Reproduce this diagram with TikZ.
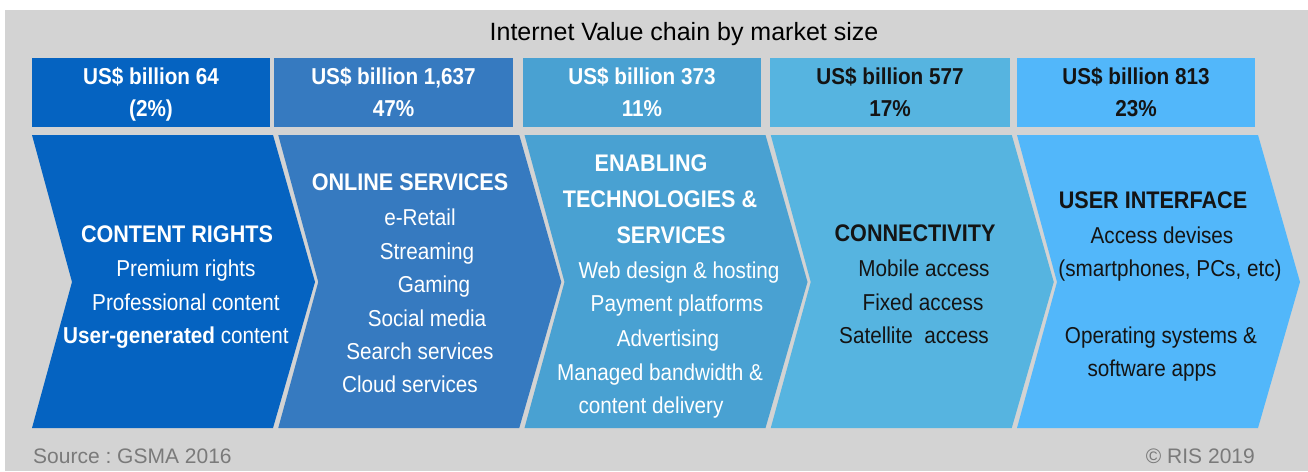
\documentclass[tikz,border=0pt]{standalone}
\usepackage{fontspec}
\setmainfont{Liberation Sans}
\newfontfamily\narrowfont{Liberation Sans}[FakeStretch=0.9]
\frenchspacing

\definecolor{panelgray}{HTML}{D3D3D3}
\definecolor{stepA}{HTML}{0563C1}
\definecolor{stepB}{HTML}{367AC0}
\definecolor{stepC}{HTML}{49A1D2}
\definecolor{stepD}{HTML}{56B4E0}
\definecolor{stepE}{HTML}{52B7FA}
\definecolor{darktext}{HTML}{141414}
\definecolor{notegray}{HTML}{7A7A7A}

\begin{document}
\begin{tikzpicture}[x=1pt,y=-1pt,
  lbl/.style={inner sep=0pt, text height=16.5pt, text depth=0pt, anchor=center},
  price/.style={lbl, font=\narrowfont\bfseries\fontsize{23}{28}\selectfont},
  heading/.style={lbl, font=\narrowfont\bfseries\fontsize{24}{28}\selectfont},
  item/.style={lbl, font=\narrowfont\fontsize{23}{28}\selectfont},
  note/.style={inner sep=0pt, text height=15pt, text depth=0pt, font=\fontsize{21}{25}\selectfont, text=notegray},
  onlight/.style={text=white},
  ondark/.style={text=darktext}]

% canvas
\useasboundingbox (0,0) rectangle (1308,471);
\fill[white] (0,0) rectangle (1308,471);
\fill[panelgray] (5,10) rectangle (1308,471);

% title
\node[lbl, font=\fontsize{25}{30}\selectfont, text=black] (title) at (684,32.5) {Internet Value chain by market size};

% market size boxes
\fill[stepA] (32,58) rectangle (270,127);
\fill[stepB] (274,58) rectangle (513,127);
\fill[stepC] (523,58) rectangle (761,127);
\fill[stepD] (770,58) rectangle (1010,127);
\fill[stepE] (1017,58) rectangle (1255,127);

\node[price, onlight] (sizeA1) at (151,76) {US\$ billion 64};
\node[price, onlight] (sizeA2) at (151,108) {(2\%)};
\node[price, onlight] (sizeB1) at (393.5,76) {US\$ billion 1,637};
\node[price, onlight] (sizeB2) at (393.5,108) {47\%};
\node[price, onlight] (sizeC1) at (642,76) {US\$ billion 373};
\node[price, onlight] (sizeC2) at (642,108) {11\%};
\node[price, ondark] (sizeD1) at (890,76) {US\$ billion 577};
\node[price, ondark] (sizeD2) at (890,108) {17\%};
\node[price, ondark] (sizeE1) at (1136,76) {US\$ billion 813};
\node[price, ondark] (sizeE2) at (1136,108) {23\%};

% chevrons of the value chain
\foreach \xl/\col in {32/stepA, 278.25/stepB, 524.5/stepC, 770.75/stepD, 1017/stepE}{
  \fill[\col] (\xl,135) -- ++(241,0) -- ++(42,147) -- ++(-42,146) -- ++(-241,0) -- ++(40,-146) -- cycle;
}

% content rights
\node[heading, onlight] (rightsT) at (177,234) {CONTENT RIGHTS};
\node[item, onlight] (rights1) at (186,268) {Premium rights};
\node[item, onlight] (rights2) at (186,302) {Professional content};
\node[item, onlight] (rights3) at (176,335) {\textbf{User-generated} content};

% online services
\node[heading, onlight] (onlineT) at (410,182) {ONLINE SERVICES};
\node[item, onlight] (online1) at (420,217) {e-Retail};
\node[item, onlight] (online2) at (427,251) {Streaming};
\node[item, onlight] (online3) at (434,284) {Gaming};
\node[item, onlight] (online4) at (427,318) {Social media};
\node[item, onlight] (online5) at (420,351) {Search services};
\node[item, onlight] (online6) at (410,384) {Cloud services};

% enabling technologies
\node[heading, onlight] (enableT1) at (651,163) {ENABLING};
\node[heading, onlight] (enableT2) at (660,199) {TECHNOLOGIES \&};
\node[heading, onlight] (enableT3) at (671,235) {SERVICES};
\node[item, onlight] (enable1) at (679,270) {Web design \& hosting};
\node[item, onlight] (enable2) at (677,303) {Payment platforms};
\node[item, onlight] (enable3) at (668,338) {Advertising};
\node[item, onlight] (enable4) at (660,372) {Managed bandwidth \&};
\node[item, onlight] (enable5) at (651,405) {content delivery};

% connectivity
\node[heading, ondark] (connT) at (915,233) {CONNECTIVITY};
\node[item, ondark] (conn1) at (924,268) {Mobile access};
\node[item, ondark] (conn2) at (923,302) {Fixed access};
\node[item, ondark] (conn3) at (914,335) {Satellite\ \ access};

% user interface
\node[heading, ondark] (uiT) at (1153,200) {USER INTERFACE};
\node[item, ondark] (ui1) at (1162,235) {Access devises};
\node[item, ondark] (ui2) at (1170,268) {(smartphones, PCs, etc)};
\node[item, ondark] (ui3) at (1161,335) {Operating systems \&};
\node[item, ondark] (ui4) at (1152,368) {software apps};

% footer
\node[note, anchor=west] (source) at (33,455.5) {Source : GSMA 2016};
\node[note, anchor=east] (credit) at (1255,455.5) {© RIS 2019};
\end{tikzpicture}
\end{document}
